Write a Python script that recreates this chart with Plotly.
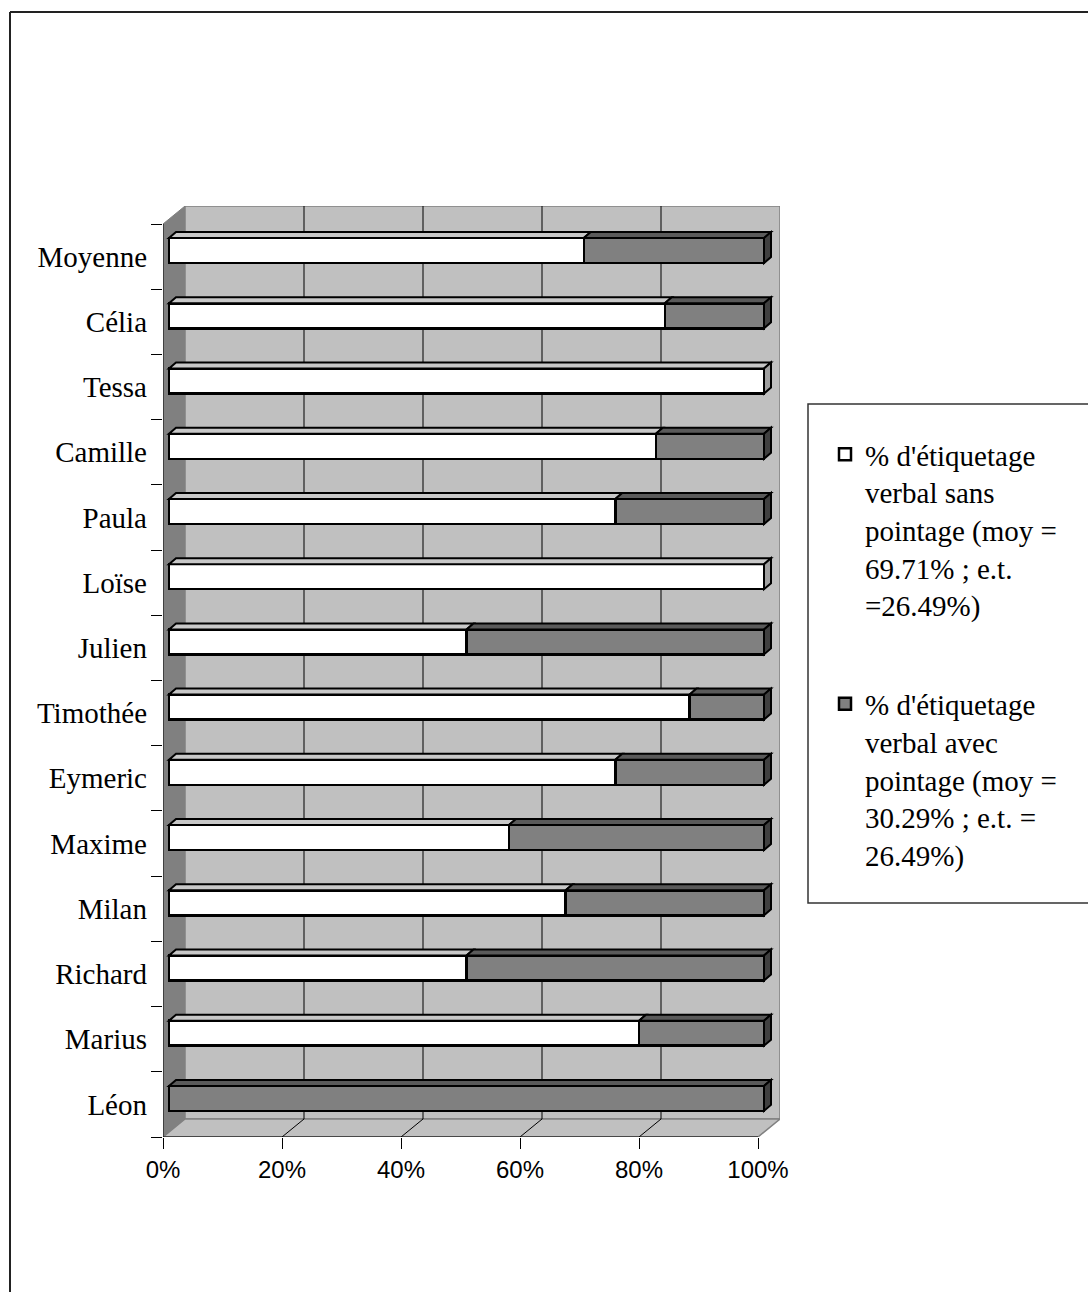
import plotly.graph_objects as go

# ---------------- data (top to bottom as displayed) ----------------
names_top_down = ["Moyenne", "Célia", "Tessa", "Camille", "Paula", "Loïse", "Julien",
                  "Timothée", "Eymeric", "Maxime", "Milan", "Richard", "Marius", "Léon"]
sans_pointage = [69.71, 83.33, 100, 81.82, 75, 100, 50, 87.5, 75, 57.14, 66.67, 50, 79, 0]
avec_pointage = [30.29, 16.67, 0, 18.18, 25, 0, 50, 12.5, 25, 42.86, 33.33, 50, 21, 100]
x_ticks = [0, 20, 40, 60, 80, 100]
x_tick_labels = ["0%", "20%", "40%", "60%", "80%", "100%"]
legend_sans = "% d'étiquetage<br>verbal sans<br>pointage (moy =<br>69.71% ; e.t.<br>=26.49%)"
legend_avec = "% d'étiquetage<br>verbal avec<br>pointage (moy =<br>30.29% ; e.t. =<br>26.49%)"

# bottom-to-top order for the category axis
cats = names_top_down[::-1]
sans = sans_pointage[::-1]
avec = avec_pointage[::-1]
pos = list(range(len(cats)))

# ---------------- geometry (pixels) ----------------
W, H = 1088, 1292
L, R, T, B = 163, 780, 206, 1137
XPX = 5.95                      # px per percent on the front plane
YPX = (B - 224) / len(cats)     # px per category band
XR = (R - L) / XPX
YR = -0.5 + (B - T) / YPX
DXB, DYB = 22 / XPX, 18 / YPX   # back-wall offset
SX, SY = 6 / XPX, 6 / YPX       # bar plane offset
DX, DY = 7 / XPX, 6 / YPX       # bar depth
BW = 25 / YPX                   # bar thickness


def xp(px):
    return (px - L) / (R - L)


def yp(py):
    return (B - py) / (B - T)


shapes = []
# walls
shapes.append(dict(type="path", xref="x", yref="y", layer="below",
                   path=f"M0,-0.5 L{DXB},{-0.5+DYB} L{DXB},{YR} L0,{YR-DYB} Z",
                   fillcolor="#808080", line=dict(color="#808080", width=1)))
shapes.append(dict(type="rect", xref="x", yref="y", layer="below",
                   x0=DXB, x1=100 + DXB, y0=-0.5 + DYB, y1=YR,
                   fillcolor="#C0C0C0", line=dict(color="#808080", width=1.5)))
shapes.append(dict(type="path", xref="x", yref="y", layer="below",
                   path=f"M0,-0.5 L100,-0.5 L{100+DXB},{-0.5+DYB} L{DXB},{-0.5+DYB} Z",
                   fillcolor="#C0C0C0", line=dict(color="#808080", width=1.5)))
# gridlines on back wall and floor
for v in x_ticks[1:-1]:
    shapes.append(dict(type="line", xref="x", yref="y", layer="below",
                       x0=v + DXB, x1=v + DXB, y0=-0.5 + DYB, y1=YR,
                       line=dict(color="black", width=1)))
    shapes.append(dict(type="line", xref="x", yref="y", layer="below",
                       x0=v + DXB, x1=v, y0=-0.5 + DYB, y1=-0.5,
                       line=dict(color="black", width=1)))
# front axis lines
shapes.append(dict(type="line", xref="x", yref="y", x0=0, x1=100, y0=-0.5, y1=-0.5,
                   line=dict(color="black", width=1)))
shapes.append(dict(type="line", xref="x", yref="y", x0=0, x1=0, y0=-0.5, y1=len(cats) - 0.5,
                   line=dict(color="black", width=1)))

# 3D faces of bars
top_cols = ["#C8C8C8", "#5A5A5A"]
side_cols = ["#A0A0A0", "#404040"]
for i in pos:
    yt = i + BW / 2
    yb = i - BW / 2
    x0 = 0
    last = 0
    for k, val in enumerate([sans[i], avec[i]]):
        x1 = x0 + val
        if val > 0:
            shapes.append(dict(type="path", xref="x2", yref="y2", layer="above",
                               path=f"M{x0},{yt} L{x1},{yt} L{x1+DX},{yt+DY} L{x0+DX},{yt+DY} Z",
                               fillcolor=top_cols[k], line=dict(color="black", width=2)))
            last = k
        x0 = x1
    shapes.append(dict(type="path", xref="x2", yref="y2", layer="above",
                       path=f"M{x0},{yb} L{x0},{yt} L{x0+DX},{yt+DY} L{x0+DX},{yb+DY} Z",
                       fillcolor=side_cols[last], line=dict(color="black", width=2)))

# outer chart frame
shapes.append(dict(type="line", xref="paper", yref="paper", x0=xp(10), x1=xp(10), y0=yp(12), y1=yp(1300),
                   line=dict(color="#222222", width=2)))
shapes.append(dict(type="line", xref="paper", yref="paper", x0=xp(10), x1=xp(1100), y0=yp(12), y1=yp(12),
                   line=dict(color="#222222", width=2)))
# legend frame
shapes.append(dict(type="rect", xref="paper", yref="paper", x0=xp(808), x1=xp(1100), y0=yp(404), y1=yp(903),
                   line=dict(color="#333333", width=1.5), fillcolor="rgba(0,0,0,0)"))

fig = go.Figure()
# invisible trace defining the category axis
fig.add_trace(go.Scatter(x=[0] * len(cats), y=cats, mode="markers", marker=dict(opacity=0),
                         showlegend=False, hoverinfo="skip", xaxis="x", yaxis="y"))
fig.add_trace(go.Bar(y=pos, x=sans, orientation="h", name=legend_sans, width=BW,
                     marker=dict(color="#FFFFFF", line=dict(color="black", width=2.5)),
                     xaxis="x2", yaxis="y2", legendgroup="a"))
fig.add_trace(go.Bar(y=pos, x=avec, orientation="h", name=legend_avec, width=BW,
                     marker=dict(color="#808080", line=dict(color="black", width=2.5)),
                     xaxis="x2", yaxis="y2", legendgroup="b"))

fig.update_layout(
    width=W, height=H,
    margin=dict(l=L, r=W - R, t=T, b=H - B),
    paper_bgcolor="white", plot_bgcolor="rgba(0,0,0,0)",
    barmode="stack",
    shapes=shapes,
    xaxis=dict(range=[0, XR], tickvals=x_ticks, ticktext=x_tick_labels, ticks="outside",
               ticklen=11, tickcolor="black", tickwidth=1, showgrid=False, zeroline=False,
               showline=False, tickfont=dict(family="Liberation Sans, Arial", size=24, color="black")),
    yaxis=dict(type="category", categoryorder="array", categoryarray=cats, range=[-0.5, YR],
               tickson="boundaries", ticks="outside", ticklen=11, tickcolor="black", tickwidth=1,
               ticklabelstandoff=15,
               showgrid=False, zeroline=False, showline=False,
               tickfont=dict(family="Liberation Serif, Times New Roman", size=29, color="black")),
    xaxis2=dict(overlaying="x", range=[-SX, XR - SX], visible=False),
    yaxis2=dict(overlaying="y", range=[-0.5 - SY, YR - SY], visible=False),
    legend=dict(x=xp(825), y=yp(429), xanchor="left", yanchor="top", bgcolor="rgba(0,0,0,0)",
                borderwidth=0, valign="top", traceorder="grouped", tracegroupgap=58,
                font=dict(family="Liberation Serif, Times New Roman", size=29, color="black")),
    showlegend=True,
)

fig.write_html("out.html")
